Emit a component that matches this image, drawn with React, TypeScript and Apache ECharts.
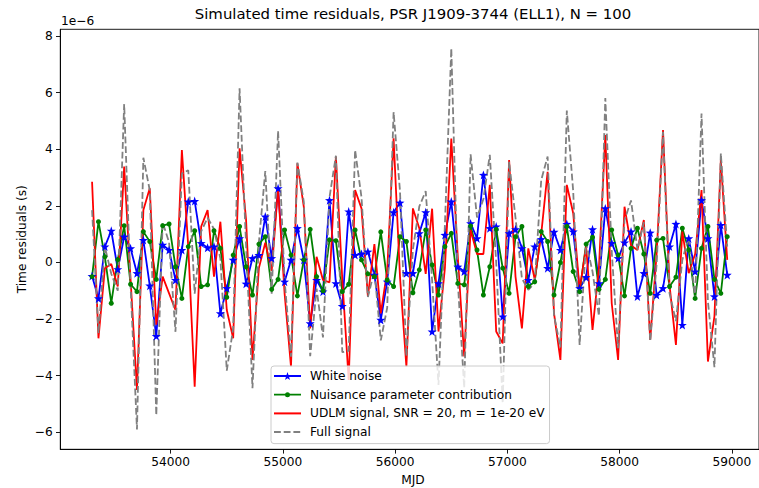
import React, { useEffect, useRef } from 'react';
import * as echarts from 'echarts';

const TITLE = 'Simulated time residuals, PSR J1909-3744 (ELL1), N = 100';
const X_LABEL = 'MJD';
const Y_LABEL = 'Time residuals (s)';
const OFFSET_TEXT = '1e\u22126';
const SERIES_NAMES = [
  'White noise',
  'Nuisance parameter contribution',
  'UDLM signal, SNR = 20, m = 1e-20 eV',
  'Full signal',
];
const X_TICKS = [54000, 55000, 56000, 57000, 58000, 59000];
const Y_TICKS = [-6, -4, -2, 0, 2, 4, 6, 8];

const MJD = [
  53300, 53357, 53414, 53471, 53529, 53586, 53643, 53700, 53757, 53814,
  53872, 53929, 53986, 54043, 54100, 54157, 54214, 54272, 54329, 54386,
  54443, 54500, 54557, 54614, 54672, 54729, 54786, 54843, 54900, 54957,
  55015, 55072, 55129, 55186, 55243, 55300, 55357, 55415, 55472, 55529,
  55586, 55643, 55700, 55757, 55815, 55872, 55929, 55986, 56043, 56100,
  56158, 56215, 56272, 56329, 56386, 56443, 56500, 56558, 56615, 56672,
  56729, 56786, 56843, 56900, 56958, 57015, 57072, 57129, 57186, 57243,
  57301, 57358, 57415, 57472, 57529, 57586, 57643, 57701, 57758, 57815,
  57872, 57929, 57986, 58043, 58101, 58158, 58215, 58272, 58329, 58386,
  58444, 58501, 58558, 58615, 58672, 58729, 58786, 58844, 58901, 58958,
];

// values in units of 1e-6 s
const WHITE_NOISE = [
  -0.48, -1.27, 0.56, 1.12, -0.24, 0.91, 0.5, -0.38, 0.79, -0.82,
  -2.6, 0.62, 0.44, -0.62, 0.44, 2.15, 2.17, 0.68, 0.52, 0.56,
  -1.8, -0.91, 0.09, 0.85, -0.75, 0.15, 0.26, 1.62, 0.15, 2.62,
  -0.68, 0.09, 1.21, 0.09, -2.15, -0.62, -1.03, 2.2, -0.74, -1.54,
  1.8, 0.26, 0.3, 0.38, -0.44, -2.03, -0.68, 1.77, 2.11, -0.38,
  -0.38, 1.03, 1.77, -2.44, -0.74, 0.97, 2.15, -0.15, -0.32, 1.38,
  0.85, 3.09, 1.21, 1.27, -1.91, 1.03, 1.17, 0.5, -0.62, 0.56,
  0.82, -0.2, 1.08, 0.44, 1.36, 1.09, -0.91, -0.52, 1.17, -0.74,
  1.91, 0.68, 0.15, 0.7, 1.09, -1.2, -0.38, 1.05, -1.15, -0.91,
  0.56, 1.36, -2.21, 0.85, -0.32, 2.2, 0.85, -1.2, 1.32, -0.44,
];

const NUISANCE = [
  -0.5, 1.44, 0.2, -1.44, 0.1, 1.3, -0.77, -1.03, 1.09, 0.74,
  -0.6, 1.3, 1.36, -0.15, -1.27, 0.56, 1.12, -0.85, -0.79, 1.12,
  0.5, -1.23, 0.26, 1.27, -0.15, -1.15, 0.65, 0.91, -0.95, -0.6,
  1.15, 0.26, -1.18, 0.09, 1.17, -0.5, -1.0, 0.8, 0.77, -1.03,
  -0.77, 1.15, 0.09, -0.4, -0.5, 1.08, -0.62, -0.85, 0.91, 0.74,
  -1.07, -0.26, 1.15, -0.09, -1.15, 0.56, 1.03, -0.74, -0.79, 1.29,
  0.44, -1.15, -0.15, 1.17, -0.2, -1.09, 0.91, 1.27, -0.85, -0.68,
  1.09, 0.74, -1.15, 0.0, 1.27, -0.32, -1.03, 0.65, 0.89, -0.95,
  -0.6, 1.15, 0.26, -1.18, 0.5, 1.21, 0.3, -1.09, 0.79, 0.85,
  -0.85, -0.52, 1.21, 0.44, -1.27, 0.5, 1.27, -0.6, -1.09, 0.91,
];

const UDLM = [
  2.85, -2.68, -0.2, -0.05, -0.85, 3.39, -0.6, -4.5, 1.85, 2.62,
  -2.2, -0.5, -1.09, -1.68, 3.97, 0.55, -4.39, 1.27, 1.85, -0.5,
  1.44, -1.68, -2.68, 4.03, 1.5, -3.44, -0.2, 0.7, -0.3, 2.62,
  -1.09, -3.68, 3.5, 1.97, -2.33, 0.2, -0.62, -0.7, 3.74, -0.6,
  -4.15, 2.56, 1.91, -1.2, 0.65, -1.8, -0.3, 4.39, -0.5, -3.68,
  1.91, 1.21, -0.4, 1.9, -2.44, -0.2, 4.38, 0.2, -3.32, 1.15,
  0.3, 0.3, 2.74, -2.44, -2.86, 3.62, -0.5, -2.33, 0.5, -0.6,
  1.0, 3.2, -1.8, -3.44, 2.74, 1.74, -0.97, 0.56, -2.38, -0.2,
  4.5, -1.44, -3.44, 1.97, 0.6, 0.44, 1.5, -2.74, 0.3, 4.68,
  -0.8, -2.91, 1.09, -0.38, 0.3, 2.56, -3.5, -1.9, 3.62, 0.09,
];

const FULL_SIGNAL = [
  1.85, -2.5, 0.55, -0.4, -1.0, 5.6, -0.85, -5.9, 3.7, 2.55,
  -5.4, 1.42, 0.71, -2.45, 3.14, 3.26, -1.1, 1.1, 1.58, 1.18,
  0.14, -3.82, -2.33, 6.15, 0.6, -4.44, 0.71, 3.23, -1.1, 4.64,
  -0.62, -3.33, 3.53, 2.15, -3.31, -0.92, -2.65, 2.3, 3.77, -3.17,
  -3.12, 3.97, 2.3, -1.22, -0.29, -2.75, -1.6, 5.31, 2.52, -3.32,
  0.46, 1.98, 2.52, -0.63, -4.33, 1.33, 7.56, -0.69, -4.43, 3.82,
  1.59, 2.24, 3.8, 0.0, -4.97, 3.56, 1.58, -0.56, -0.97, -0.72,
  2.91, 3.74, -1.87, -3.0, 5.37, 2.51, -2.91, 0.69, -0.32, -1.89,
  5.81, 0.39, -3.03, 1.49, 2.19, 0.45, 1.42, -2.78, -0.06, 4.62,
  -1.09, -2.07, 0.09, 0.91, -1.29, 5.26, -1.38, -3.7, 3.85, 0.56,
];

const FONT = 'DejaVu Sans';
const STAR =
  'path://M0,-10 L2.35,-3.24 L9.51,-3.09 L3.8,1.24 L5.88,8.09 L0,4 L-5.88,8.09 L-3.8,1.24 L-9.51,-3.09 L-2.35,-3.24 Z';
// legend glyph for the nuisance series: a line with a small dot in the middle (27 x 10 box)
const DOT_LINE_ICON =
  'path://M0,0 M27,10 M0,4.1 L27,4.1 L27,5.9 L0,5.9 Z M16,5 A2.5,2.5 0 1 1 11,5 A2.5,2.5 0 1 1 16,5 Z';

const pairs = (ys: number[]) => MJD.map((x, i) => [x, ys[i]]);
const minusFmt = (v: number) => String(v).replace('-', '\u2212');

export default function App() {
  const ref = useRef<HTMLDivElement>(null);

  useEffect(() => {
    if (!ref.current) return;
    const chart = echarts.init(ref.current, null, { renderer: 'svg' });
    const option: any = {
      animation: false,
      backgroundColor: '#ffffff',
      textStyle: { fontFamily: FONT },
      grid: {
        left: 60.3,
        top: 29.3,
        right: -7.1,
        bottom: 38.7,
        show: true,
        borderColor: '#000',
        borderWidth: 0.9,
        backgroundColor: 'transparent',
      },
      xAxis: {
        type: 'value',
        min: 53017,
        max: 59241,
        axisLine: { show: true, onZero: false, lineStyle: { color: '#000', width: 0.9 } },
        axisTick: {
          show: true,
          length: 4.3,
          customValues: X_TICKS,
          lineStyle: { color: '#000', width: 0.9 },
        },
        axisLabel: {
          customValues: X_TICKS,
          formatter: (v: number) => String(v),
          color: '#000',
          fontSize: 12.2,
          fontFamily: FONT,
          margin: 7,
        },
        splitLine: { show: false },
      },
      yAxis: {
        type: 'value',
        min: -6.6,
        max: 8.237,
        axisLine: { show: true, onZero: false, lineStyle: { color: '#000', width: 0.9 } },
        axisTick: {
          show: true,
          length: 4.3,
          customValues: Y_TICKS,
          lineStyle: { color: '#000', width: 0.9 },
        },
        axisLabel: {
          customValues: Y_TICKS,
          formatter: minusFmt,
          color: '#000',
          fontSize: 12.2,
          fontFamily: FONT,
          margin: 7.5,
        },
        splitLine: { show: false },
      },
      legend: {
        orient: 'vertical',
        left: 271,
        top: 366,
        data: [
          { name: SERIES_NAMES[0] },
          { name: SERIES_NAMES[1], icon: DOT_LINE_ICON },
          { name: SERIES_NAMES[2], itemStyle: { opacity: 0 } },
          { name: SERIES_NAMES[3], itemStyle: { opacity: 0 } },
        ],
        itemWidth: 27,
        itemHeight: 10,
        itemGap: 4.7,
        padding: [3, 5, 4.5, 2],
        backgroundColor: 'rgba(255,255,255,0.8)',
        borderColor: '#cccccc',
        borderWidth: 1,
        borderRadius: 3,
        selectedMode: false,
        formatter: (name: string) => `{g|}{t|${name}}`,
        textStyle: {
          fontFamily: FONT,
          fontSize: 12.2,
          color: '#000',
          lineHeight: 14,
          rich: {
            g: { width: 4, height: 14 },
            t: {
              fontFamily: FONT,
              fontSize: 12.2,
              color: '#000',
              lineHeight: 14,
            },
          },
        },
      },
      graphic: [
        {
          type: 'text',
          x: 413,
          y: 14,
          style: {
            text: TITLE,
            fontFamily: FONT,
            fontSize: 14.9,
            fill: '#000',
            textAlign: 'center',
            textVerticalAlign: 'middle',
          },
        },
        {
          type: 'text',
          x: 61,
          y: 21,
          style: {
            text: OFFSET_TEXT,
            fontFamily: FONT,
            fontSize: 12.2,
            fill: '#000',
            textAlign: 'left',
            textVerticalAlign: 'middle',
          },
        },
        {
          type: 'text',
          x: 413,
          y: 480,
          style: {
            text: X_LABEL,
            fontFamily: FONT,
            fontSize: 12.2,
            fill: '#000',
            textAlign: 'center',
            textVerticalAlign: 'middle',
          },
        },
        {
          type: 'text',
          x: 22,
          y: 239.3,
          rotation: Math.PI / 2,
          style: {
            text: Y_LABEL,
            fontFamily: FONT,
            fontSize: 12.2,
            fill: '#000',
            textAlign: 'center',
            textVerticalAlign: 'middle',
          },
        },
      ],
      series: [
        {
          name: SERIES_NAMES[0],
          type: 'line',
          data: pairs(WHITE_NOISE),
          symbol: STAR,
          symbolSize: 9,
          showSymbol: true,
          color: '#0000ff',
          lineStyle: { color: '#0000ff', width: 1.8 },
          itemStyle: { color: '#0000ff' },
        },
        {
          name: SERIES_NAMES[1],
          type: 'line',
          data: pairs(NUISANCE),
          symbol: 'circle',
          symbolSize: 5,
          showSymbol: true,
          color: '#008000',
          lineStyle: { color: '#008000', width: 1.8 },
          itemStyle: { color: '#008000' },
        },
        {
          name: SERIES_NAMES[2],
          type: 'line',
          data: pairs(UDLM),
          symbol: 'none',
          color: '#ff0000',
          lineStyle: { color: '#ff0000', width: 1.8 },
          itemStyle: { color: '#ff0000' },
        },
        {
          name: SERIES_NAMES[3],
          type: 'line',
          data: pairs(FULL_SIGNAL),
          symbol: 'none',
          color: '#808080',
          lineStyle: { color: '#808080', width: 1.8, type: [6.8, 2.9] },
          itemStyle: { color: '#808080' },
        },
      ],
    };
    chart.setOption(option);
    return () => chart.dispose();
  }, []);

  return (
    <div
      ref={ref}
      style={{ position: 'absolute', left: 0, top: 0, width: 759, height: 488, background: '#fff' }}
    />
  );
}
